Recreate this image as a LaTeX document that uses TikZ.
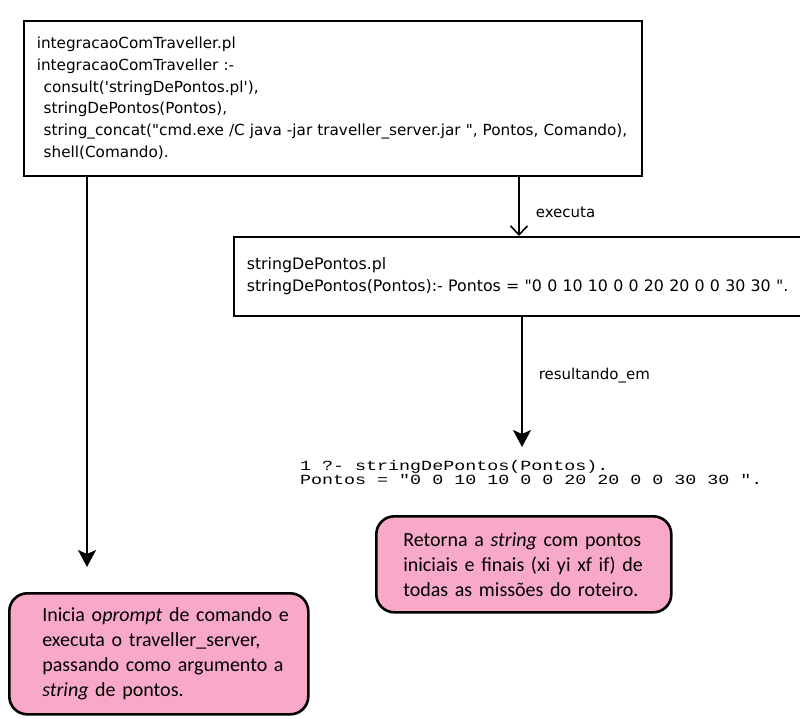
\documentclass[tikz,border=0pt]{standalone}
\usepackage{fontspec}
\setmainfont{DejaVu Sans}
\newfontfamily\boxfont[Ligatures=TeXOff]{DejaVu Sans}
\newfontfamily\notefont{Carlito}
\newfontfamily\consolefont[Ligatures=TeXOff,FakeStretch=1.31]{Liberation Mono}
\usetikzlibrary{arrows.meta}

\definecolor{notepink}{RGB}{249,169,200}

\tikzset{
  codebox/.style={draw=black, line width=1.6pt, anchor=north west,
    inner xsep=13pt, inner ysep=0pt, align=left},
  notebox/.style={draw=black, line width=2.6pt, fill=notepink,
    rounded corners=18pt, anchor=north west, inner xsep=0pt, inner ysep=0pt,
    align=left, font=\notefont\fontsize{20}{25}\selectfont},
  flowlabel/.style={anchor=west, inner sep=0pt, xshift=16pt,
    font=\boxfont\fontsize{15}{18}\selectfont},
  solidarrow/.style={line width=1.6pt,
    -{Stealth[length=17pt,width=18pt,inset=4pt]}},
  openarrow/.style={line width=1.6pt,
    -{Straight Barb[length=9pt,width=17pt]}},
}

\begin{document}
\begin{tikzpicture}[x=1pt,y=-1pt]
  \useasboundingbox (0,0) rectangle (800,718);

  % Prolog source of the caller
  \node[codebox, text width=592pt, minimum height=155pt,
        font=\boxfont\fontsize{15.25}{21.8}\selectfont] (caller) at (23,20)
    {integracaoComTraveller.pl\\
     integracaoComTraveller :-\\
     \hspace*{0.45em}consult('stringDePontos.pl'),\\
     \hspace*{0.45em}stringDePontos(Pontos),\\
     \hspace*{0.45em}string\_concat("cmd.exe /C java -jar traveller\_server.jar ", Pontos, Comando),\\
     \hspace*{0.45em}shell(Comando).};

  % Prolog source of the points predicate (runs past the right edge)
  \node[codebox, text width=570pt, minimum height=79pt,
        font=\boxfont\fontsize{15.8}{22}\selectfont] (points) at (233,236)
    {stringDePontos.pl\\
     stringDePontos(Pontos):- Pontos = "0 0 10 10 0 0 20 20 0 0 30 30 ".};

  % Console output of the query
  \node[anchor=north west, inner sep=0pt, align=left,
        font=\consolefont\fontsize{14}{13}\selectfont] (console) at (300,460)
    {1 ?- stringDePontos(Pontos).\\
     Pontos = "0 0 10 10 0 0 20 20 0 0 30 30 ".};

  % Notes
  \node[notebox, text width=295pt, minimum height=96pt] (noteresult) at (375,515)
    {\hspace*{27pt}Retorna a \textit{string} com pontos\\
     \hspace*{27pt}iniciais e finais (xi yi xf if) de\\
     \hspace*{27pt}todas as missões do roteiro.};

  \node[notebox, text width=299pt, minimum height=121pt] (noteshell) at (8,592)
    {\hspace*{33pt}Inicia o\textit{prompt} de comando e\\
     \hspace*{33pt}executa o traveller\_server,\\
     \hspace*{33pt}passando como argumento a\\
     \hspace*{33pt}\textit{string} de pontos.};

  % Connectors
  \coordinate (shellend) at (87,567);
  \coordinate (resultend) at (522,447);

  \draw[solidarrow] (caller.south -| shellend) -- (shellend);
  \draw[openarrow] (caller.south -| 519,0) -- node[flowlabel, pos=0.6] (lblexec) {executa}
    (points.north -| 519,0);
  \draw[solidarrow] (points.south -| resultend) -- node[flowlabel, pos=0.45] (lblres) {resultando\_em}
    (resultend);
\end{tikzpicture}
\end{document}
